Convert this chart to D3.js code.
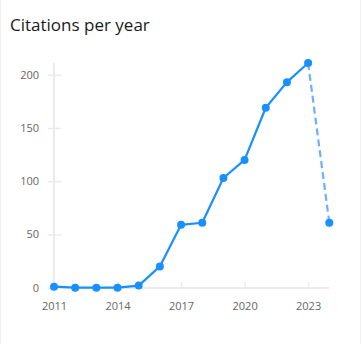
<!DOCTYPE html>
<html>
<head>
<meta charset="utf-8">
<script src="https://cdn.jsdelivr.net/npm/d3@7"></script>
<style>
  html, body { margin: 0; padding: 0; background: #fff; }
  svg { display: block; }
</style>
</head>
<body>
<svg id="chart" width="362" height="344"></svg>
<script>
// Citation counts by year; the last year is still incomplete
const years = [2011, 2012, 2013, 2014, 2015, 2016, 2017, 2018, 2019, 2020, 2021, 2022, 2023, 2024];
const citations = [1, 0, 0, 0, 2, 20, 59, 61, 103, 120, 169, 193, 211, 61];
const xTickLabels = [2011, 2014, 2017, 2020, 2023];
const yTickLabels = [0, 50, 100, 150, 200];

const svg = d3.select("#chart");
const fontFamily = "'Open Sans', 'Noto Sans', sans-serif";

// card borders
svg.append("line").attr("x1", 0.5).attr("x2", 0.5).attr("y1", 0).attr("y2", 344)
  .attr("stroke", "#f0f0f0");
svg.append("line").attr("x1", 360.5).attr("x2", 360.5).attr("y1", 0).attr("y2", 344)
  .attr("stroke", "#f0f0f0");

svg.append("text")
  .attr("x", 10).attr("y", 31)
  .attr("font-family", fontFamily)
  .attr("font-size", 17)
  .attr("fill", "#1a1a1a")
  .text("Citations per year");

const x = d3.scaleLinear().domain([2011, 2024]).range([54, 329.3]);
const y = d3.scaleLinear().domain([0, d3.max(citations)]).range([287.7, 63]);

// y axis
const yAxis = svg.append("g").attr("transform", "translate(54,0)")
  .call(d3.axisLeft(y).tickValues(yTickLabels).tickSize(6).tickPadding(9).tickFormat(d3.format("d")));
yAxis.select(".domain").remove();
yAxis.selectAll(".tick line").attr("x1", -6).attr("x2", 7).attr("stroke", "#ebebeb").attr("stroke-width", 1.5);
yAxis.selectAll(".tick text").attr("font-family", fontFamily).attr("font-size", 11).attr("fill", "#666");
svg.append("line").attr("x1", 54).attr("x2", 54).attr("y1", 63).attr("y2", 288)
  .attr("stroke", "#ebebeb").attr("stroke-width", 2);

// x axis
const xAxis = svg.append("g").attr("transform", "translate(0,288)")
  .call(d3.axisBottom(x).tickValues(xTickLabels).tickSize(0).tickPadding(14).tickFormat(d3.format("d")));
xAxis.select(".domain").remove();
xAxis.selectAll(".tick line").attr("y1", -6).attr("y2", 0).attr("stroke", "#ebebeb").attr("stroke-width", 1.5);
xAxis.selectAll(".tick text").attr("font-family", fontFamily).attr("font-size", 11).attr("fill", "#666");
svg.append("line").attr("x1", 54).attr("x2", 329.3).attr("y1", 288).attr("y2", 288)
  .attr("stroke", "#ebebeb").attr("stroke-width", 2);

const pts = years.map((yr, i) => ({ year: yr, value: citations[i] }));
const line = d3.line().x(d => x(d.year)).y(d => y(d.value));

// completed years: solid line
svg.append("path").datum(pts.slice(0, pts.length - 1))
  .attr("d", line).attr("fill", "none")
  .attr("stroke", "#1890ff").attr("stroke-width", 2.2).attr("stroke-linejoin", "round");

// current year: dashed segment
svg.append("path").datum(pts.slice(pts.length - 2))
  .attr("d", line).attr("fill", "none")
  .attr("stroke", "#69b1ff").attr("stroke-width", 2.2).attr("stroke-dasharray", "7,4");

svg.append("g").selectAll("circle").data(pts).join("circle")
  .attr("cx", d => x(d.year)).attr("cy", d => y(d.value))
  .attr("r", 4).attr("fill", "#1890ff");
</script>
</body>
</html>
